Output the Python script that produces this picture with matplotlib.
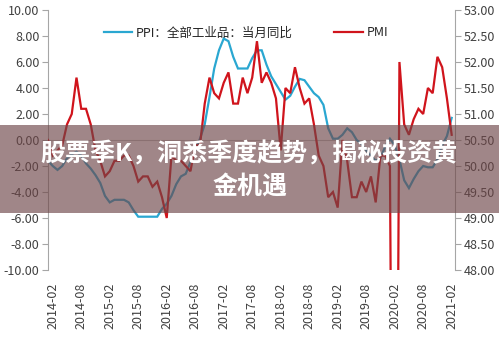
import matplotlib
matplotlib.use("Agg")
import matplotlib.pyplot as plt
from matplotlib.patches import Rectangle
from matplotlib.lines import Line2D
import numpy as np

plt.rcParams['font.family'] = ['Noto Sans CJK SC', 'DejaVu Sans']

# 月度数据 2014-01 ~ 2021-02
months = ['%d-%02d' % (y, m) for y in range(2014, 2022) for m in range(1, 13)][:86]

ppi = [-1.6, -2.0, -2.3, -2.0, -1.4, -1.1, -0.9, -1.2, -1.8, -2.2, -2.7, -3.3,
       -4.3, -4.8, -4.6, -4.6, -4.6, -4.8, -5.4, -5.9, -5.9, -5.9, -5.9, -5.9,
       -5.3, -4.9, -4.3, -3.4, -2.8, -2.6, -1.7, -0.8, 0.1, 1.2, 3.3, 5.5,
       6.9, 7.8, 7.6, 6.4, 5.5, 5.5, 5.5, 6.3, 6.9, 6.9, 5.8, 4.9,
       4.3, 3.7, 3.1, 3.4, 4.1, 4.7, 4.6, 4.1, 3.6, 3.3, 2.7, 0.9,
       0.1, 0.1, 0.4, 0.9, 0.6, 0.0, -0.3, -0.8, -1.2, -1.6, -1.4, -0.5,
       0.1, -0.4, -1.5, -3.1, -3.7, -3.0, -2.4, -2.0, -2.1, -2.1, -1.5, -0.4,
       0.3, 1.7]

pmi = [50.5, 50.2, 50.3, 50.4, 50.8, 51.0, 51.7, 51.1, 51.1, 50.8, 50.3, 50.1,
       49.8, 49.9, 50.1, 50.1, 50.2, 50.2, 50.0, 49.7, 49.8, 49.8, 49.6, 49.7,
       49.4, 49.0, 50.2, 50.1, 50.1, 50.0, 49.9, 50.4, 50.4, 51.2, 51.7, 51.4,
       51.3, 51.6, 51.8, 51.2, 51.2, 51.7, 51.4, 51.7, 52.4, 51.6, 51.8, 51.6,
       51.3, 50.3, 51.5, 51.4, 51.9, 51.5, 51.2, 51.3, 50.8, 50.2, 50.0, 49.4,
       49.5, 49.2, 50.5, 50.1, 49.4, 49.4, 49.7, 49.5, 49.8, 49.3, 50.2, 50.2,
       50.0, 35.7, 52.0, 50.8, 50.6, 50.9, 51.1, 51.0, 51.5, 51.4, 52.1, 51.9,
       51.3, 50.6]

x = np.arange(len(months))
tick_idx = list(range(1, len(months), 6))
tick_labels = [months[i] for i in tick_idx]

blue = '#2AA7D1'
red = '#D0141C'
gray = '#A6A6A6'
txt = '#404040'

fig = plt.figure(figsize=(4.99, 3.39), dpi=100)
ax = fig.add_axes([48 / 499, 1 - 270 / 339, 407 / 499, 260 / 339])
ax2 = ax.twinx()

ax.plot(x, ppi, color=blue, lw=1.6, solid_joinstyle='miter')
ax2.plot(x, pmi, color=red, lw=1.6, solid_joinstyle='miter')

ax.set_xlim(0, 85.7)
ax.set_ylim(-10, 10)
ax2.set_ylim(48, 53)
ax.set_yticks(np.arange(-10, 10.1, 2))
ax2.set_yticks(np.arange(48, 53.01, 0.5))
ax.yaxis.set_major_formatter(matplotlib.ticker.FormatStrFormatter('%.2f'))
ax2.yaxis.set_major_formatter(matplotlib.ticker.FormatStrFormatter('%.2f'))
ax.axhline(0, color='#BFBFBF', lw=0.8, zorder=0)

ax.set_xticks(tick_idx)
ax.set_xticklabels(tick_labels, rotation=90)

for a in (ax, ax2):
    for s in ('top', 'bottom'):
        a.spines[s].set_visible(False)
    a.spines['left'].set_color(gray)
    a.spines['right'].set_color(gray)
    a.tick_params(axis='y', colors=gray, labelcolor=txt, length=4, width=0.8,
                  labelsize=9, pad=2)
ax.spines['right'].set_visible(False)
ax2.spines['left'].set_visible(False)
ax.tick_params(axis='x', length=0, labelsize=9, labelcolor=txt, pad=9)

handles = [Line2D([], [], color=blue, lw=1.6), Line2D([], [], color=red, lw=1.6)]
fig.legend(handles, ['PPI：全部工业品：当月同比', 'PMI'], ncol=2, frameon=False,
           loc='center', bbox_to_anchor=(246 / 499, 1 - 33 / 339),
           fontsize=9, handlelength=2.3, handletextpad=0.3, columnspacing=3.3,
           borderpad=0, labelcolor='#262626')

# 半透明横幅
fig.add_artist(Rectangle((0, 1 - 212.5 / 339), 1, 87.5 / 339,
                         transform=fig.transFigure, facecolor=(110 / 255, 70 / 255, 72 / 255),
                         alpha=0.65, edgecolor='none', zorder=5))
fig.text(249 / 499, 1 - 154 / 339, '股票季K，洞悉季度趋势，揭秘投资黄', color='white',
         fontsize=18, fontweight='bold', ha='center', va='center', zorder=6)
fig.text(250 / 499, 1 - 187 / 339, '金机遇', color='white',
         fontsize=18, fontweight='bold', ha='center', va='center', zorder=6)

fig.savefig('out.png', dpi=100)
